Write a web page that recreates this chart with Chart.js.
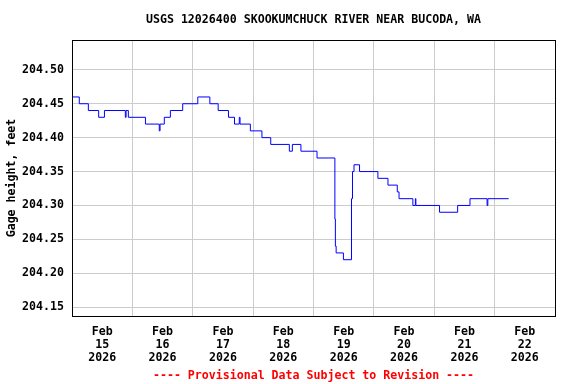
<!DOCTYPE html>
<html>
<head>
<meta charset="utf-8">
<script src="https://cdn.jsdelivr.net/npm/chart.js@4"></script>
<style>
  body { margin: 0; background: #fff; }
  canvas { display: block; }
</style>
</head>
<body>
<canvas id="gageChart" width="576" height="384"></canvas>
<script>
// ======================
// DATA (hours since Feb 15 2026 00:00, gage height in feet)
// ======================
const hours = [0, 2.9, 6.5, 10.6, 12.9, 21.2, 21.5, 22.4, 29.2, 34.7, 35.0, 36.7, 39.1, 44.0,
  50.0, 54.8, 58.1, 62.2, 64.6, 66.5, 66.8, 70.9, 75.5, 79.0, 86.4, 87.6, 91.0, 97.4,
  104.5, 104.7, 105.0, 107.9, 111.1, 111.5, 112.1, 114.3, 121.6, 125.6, 129.3, 130.0,
  135.5, 136.5, 136.7, 146.1, 153.3, 158.2, 165.0, 165.3, 173.6];
const gage = [204.46, 204.45, 204.44, 204.43, 204.44, 204.43, 204.44, 204.43, 204.42, 204.41, 204.42, 204.43, 204.44, 204.45,
  204.46, 204.45, 204.44, 204.43, 204.42, 204.43, 204.42, 204.41, 204.40, 204.39, 204.38, 204.39, 204.38, 204.37,
  204.28, 204.24, 204.23, 204.22, 204.31, 204.35, 204.36, 204.35, 204.34, 204.33, 204.32, 204.31,
  204.30, 204.31, 204.30, 204.29, 204.30, 204.31, 204.30, 204.31, 204.31];

const dayLabels = ["15", "16", "17", "18", "19", "20", "21", "22"];
const yTicks = [204.15, 204.20, 204.25, 204.30, 204.35, 204.40, 204.45, 204.50];

const titleText = "USGS 12026400 SKOOKUMCHUCK RIVER NEAR BUCODA, WA";
const footerText = "---- Provisional Data Subject to Revision ----";
const FONT = "'DejaVu Sans Mono', monospace";

// ======================
// TITLE / FRAME / FOOTER
// ======================
const frameAndText = {
  id: "frameAndText",
  afterDraw(chart) {
    const ctx = chart.ctx;
    const a = chart.chartArea;
    ctx.save();
    ctx.strokeStyle = "#000";
    ctx.lineWidth = 1;
    ctx.strokeRect(Math.round(a.left) + 0.5, Math.round(a.top) + 0.5,
      Math.round(a.right - a.left), Math.round(a.bottom - a.top));
    ctx.textAlign = "center";
    ctx.textBaseline = "middle";
    ctx.font = "bold 11.6px " + FONT;
    ctx.fillStyle = "#000";
    ctx.fillText(titleText, (a.left + a.right) / 2, 20);
    ctx.fillStyle = "#ff0000";
    ctx.fillText(footerText, (a.left + a.right) / 2, 375.5);
    ctx.restore();
  }
};

new Chart(document.getElementById("gageChart"), {
  type: "line",
  data: {
    datasets: [{
      data: hours.map((h, i) => ({ x: h, y: gage[i] })),
      borderColor: "#0000ff",
      borderWidth: 1,
      pointRadius: 0,
      stepped: true,
      fill: false
    }]
  },
  options: {
    responsive: false,
    animation: false,
    devicePixelRatio: 1,
    layout: { padding: { top: 40, right: 21, left: 0, bottom: 0 } },
    plugins: { legend: { display: false }, tooltip: { enabled: false } },
    scales: {
      x: {
        type: "linear",
        min: 0,
        max: 192,
        afterBuildTicks: (scale) => {
          const t = [];
          for (let v = 0; v <= 192; v += 12) t.push({ value: v });
          scale.ticks = t;
        },
        afterFit: (scale) => { scale.height = 68; },
        border: { display: false },
        grid: {
          drawTicks: false,
          color: (c) => (c.tick && c.tick.value % 24 === 0) ? "#cccccc" : "rgba(0,0,0,0)",
          lineWidth: 1
        },
        ticks: {
          autoSkip: false,
          maxRotation: 0,
          padding: 9,
          color: "#000",
          font: { family: FONT, size: 11.6, weight: "bold", lineHeight: "13px" },
          callback: (v) => {
            if (v % 24 !== 12) return "";
            return ["Feb", dayLabels[(v - 12) / 24], "2026"];
          }
        }
      },
      y: {
        min: 204.137,
        max: 204.544,
        afterBuildTicks: (scale) => { scale.ticks = yTicks.map(v => ({ value: v })); },
        afterFit: (scale) => { scale.width = 72; },
        border: { display: false },
        grid: { drawTicks: false, color: "#cccccc", lineWidth: 1 },
        ticks: {
          padding: 8,
          color: "#000",
          font: { family: FONT, size: 11.6, weight: "bold" },
          callback: (v) => Number(v).toFixed(2)
        },
        title: {
          display: true,
          text: "Gage height, feet",
          color: "#000",
          padding: { top: 5, bottom: 0 },
          font: { family: FONT, size: 11.6, weight: "bold" }
        }
      }
    }
  },
  plugins: [frameAndText]
});
</script>
</body>
</html>
